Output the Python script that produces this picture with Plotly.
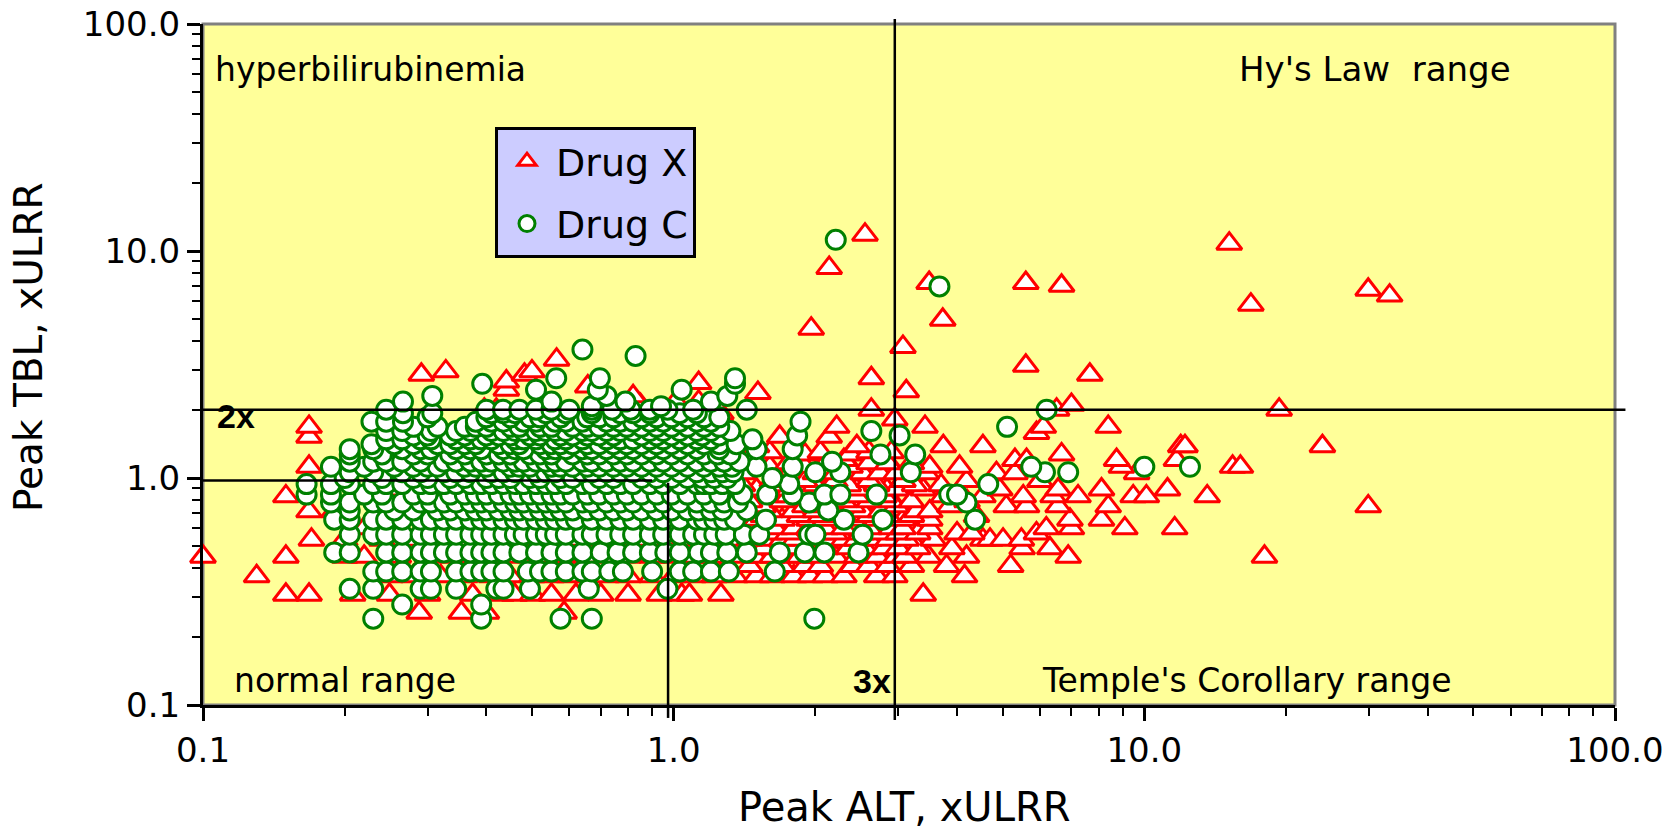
import math
import plotly.graph_objects as go

# ---------------- data (peak values, x upper limit of reference range) ----------------
# Drug X (triangles): each TBL level with the ALT values observed at that level
drug_x_tbl = [0.255, 0.306, 0.369, 0.41, 0.45, 0.49, 0.535, 0.57, 0.60, 0.655, 0.68, 0.713, 0.75,
              0.79, 0.83, 0.89, 0.93, 0.97, 1.05, 1.12, 1.16, 1.2, 1.27, 1.3, 1.38, 1.52, 1.58,
              1.63, 1.68, 1.81, 1.93, 2.0, 2.1, 2.17, 2.29, 2.37, 2.41, 2.45, 2.53, 2.62, 2.66,
              2.75, 2.85, 2.95, 3.12, 3.32, 3.78, 4.55, 4.98, 5.8, 6.36, 6.75, 7.03, 7.23, 8.42,
              10.77, 11.8]
drug_x_alt = [
    [0.288, 0.354, 0.4, 0.585],
    [0.15, 0.168, 0.208, 0.249, 0.3, 0.374, 0.43, 0.459, 0.502, 0.55, 0.62, 0.7, 0.8, 0.932, 1.04, 1.08, 1.26, 3.39],
    [0.13, 0.25, 0.28, 0.32, 0.36, 0.41, 0.45, 0.5, 0.55, 0.6, 0.66, 0.72, 0.8, 0.9, 1.0, 1.1, 1.22, 1.35, 1.5,
     1.62, 1.8, 1.95, 2.1, 2.3, 2.7, 2.95, 4.15],
    [1.3, 1.45, 1.7, 1.9, 2.05, 2.4, 2.6, 2.85, 3.2, 3.8, 5.2],
    [0.1, 0.15, 0.2, 0.22, 0.26, 0.3, 0.34, 0.38, 0.42, 0.47, 0.52, 0.58, 0.65, 0.72, 0.8, 0.9, 1.0, 1.1, 1.2,
     1.27, 1.4, 1.49, 1.62, 1.75, 1.85, 2.0, 2.21, 2.45, 2.71, 2.97, 3.1, 3.48, 4.19, 6.89, 18.0],
    [1.35, 1.55, 1.8, 2.1, 2.35, 2.55, 2.8, 3.0, 3.3, 3.9, 5.5, 6.3],
    [0.17, 0.2, 0.24, 0.28, 0.32, 0.36, 0.4, 0.45, 0.5, 0.55, 0.62, 0.7, 0.78, 0.86, 0.95, 1.05, 1.15, 1.25,
     1.35, 1.45, 1.55, 1.7, 1.81, 2.0, 2.14, 2.3, 2.45, 2.6, 2.86, 3.12, 3.56, 4.54, 4.7, 5.01, 5.48],
    [1.4, 1.6, 1.75, 2.05, 2.2, 2.5, 2.75, 3.0, 3.3, 4.0, 4.3, 5.9],
    [0.22, 0.3, 0.42, 0.6, 0.85, 1.1, 1.3, 1.5, 1.64, 1.8, 1.94, 2.1, 2.3, 2.6, 2.9, 3.07, 3.5, 6.19, 7.0, 9.09, 11.6],
    [0.25, 0.4, 0.7, 1.2, 1.5, 1.7, 1.94, 2.1, 2.4, 2.7, 3.07, 3.5, 6.95, 8.11],
    [1.35, 1.55, 1.85, 2.05, 2.3, 2.6, 2.85, 3.2, 4.4],
    [0.168, 0.19, 0.35, 0.55, 0.9, 1.25, 1.45, 1.6, 1.8, 2.0, 2.2, 2.52, 2.75, 3.28, 3.5],
    [1.3, 1.55, 1.9, 2.15, 2.4, 2.97, 3.86, 5.09, 5.62, 6.56, 8.38, 29.9],
    [1.45, 1.7, 2.05, 2.3, 2.6, 2.9, 3.2, 4.2],
    [0.15, 0.3, 0.6, 1.1, 1.35, 1.62, 1.75, 2.0, 2.26, 2.45, 2.8, 3.74, 4.54, 5.53, 6.4, 7.23, 9.47, 10.1, 13.6],
    [0.25, 0.5, 0.8, 1.2, 1.5, 1.76, 2.1, 2.45, 2.84, 2.97, 3.39, 4.93, 6.56, 8.11, 11.2],
    [1.4, 1.7, 2.0, 2.35, 2.7, 3.25, 3.7],
    [0.2, 0.45, 0.9, 1.3, 1.62, 1.9, 2.2, 2.6, 3.07, 4.19, 6.0],
    [0.3, 0.7, 1.4, 2.0, 2.21, 2.52, 2.74, 2.97, 3.44, 4.85, 5.31, 9.63],
    [0.168, 0.208, 0.4, 1.0, 1.6, 1.9, 2.37, 3.5, 4.05, 8.94, 15.4, 16.0],
    [1.45, 1.75, 2.1, 2.6, 2.85, 3.2],
    [0.231, 0.345, 0.6, 1.1, 2.3, 5.31, 5.62, 8.73, 11.7],
    [0.5, 1.2, 1.9, 2.37, 6.67],
    [1.6, 2.05, 2.6, 2.9],
    [0.249, 0.8, 1.5, 2.45, 3.74, 4.54, 11.95, 12.2, 23.9],
    [0.168, 0.9, 1.68, 2.14],
    [5.9],
    [0.27, 0.6, 1.25],
    [0.168, 2.22, 3.42, 6.1, 8.38],
    [1.27, 2.95],
    [1.26],
    [0.396, 0.42, 2.63, 6.51, 19.34],
    [0.85, 7.0],
    [1.01, 1.13],
    [0.82],
    [1.51],
    [3.12],
    [0.441],
    [0.657],
    [1.13],
    [0.441],
    [2.63],
    [0.291, 0.482, 7.66],
    [0.328, 0.50],
    [5.6],
    [0.564],
    [3.07],
    [1.96],
    [3.73],
    [16.84],
    [33.2],
    [29.9],
    [6.67],
    [3.49, 5.6],
    [2.14],
    [15.15],
    [2.55],
]

# Drug C (circles): each TBL level with the ALT values observed at that level
drug_c_tbl = [0.24, 0.277, 0.325, 0.387, 0.47, 0.563, 0.655, 0.72, 0.78, 0.845, 0.94, 1.0, 1.06, 1.12,
              1.18, 1.27, 1.34, 1.41, 1.48, 1.54, 1.61, 1.68, 1.77, 1.85, 1.93, 2.0, 2.07, 2.17, 2.3,
              2.45, 2.6, 2.75, 3.45, 3.68, 6.98, 11.2]
drug_c_alt = [
    [0.23, 0.39, 0.575, 0.67, 1.99],
    [0.265, 0.39],
    [0.205, 0.23, 0.29, 0.305, 0.345, 0.42, 0.435, 0.495, 0.66, 0.97],
    [0.23, 0.245, 0.265, 0.29, 0.305, 0.345, 0.37, 0.39, 0.41, 0.435, 0.49, 0.52, 0.55, 0.59, 0.64, 0.67,
     0.73, 0.78, 0.9, 1.03, 1.1, 1.2, 1.31, 1.64],
    [0.19, 0.205, 0.245, 0.265, 0.29, 0.305, 0.325, 0.345, 0.37, 0.39, 0.41, 0.435, 0.47, 0.51, 0.55, 0.59,
     0.64, 0.7, 0.76, 0.82, 0.89, 0.96, 1.03, 1.13, 1.2, 1.3, 1.43, 1.68, 1.9, 2.09, 2.47],
    [0.205, 0.23, 0.245, 0.265, 0.29, 0.305, 0.325, 0.345, 0.37, 0.39, 0.41, 0.435, 0.46, 0.48, 0.51, 0.535,
     0.56, 0.59, 0.64, 0.67, 0.72, 0.77, 0.82, 0.89, 0.95, 1.03, 1.1, 1.16, 1.22, 1.29, 1.41,
     1.52, 1.94, 2.0, 2.52],
    [0.19, 0.205, 0.23, 0.245, 0.265, 0.29, 0.305, 0.325, 0.345, 0.37, 0.39, 0.41, 0.435, 0.46, 0.48, 0.51,
     0.535, 0.56, 0.59, 0.62, 0.67, 0.72, 0.77, 0.82, 0.89, 0.95, 1.03, 1.12, 1.16, 1.22, 1.28, 1.35,
     1.57, 2.3, 2.78, 4.37],
    [0.205, 0.255, 0.28, 0.315, 0.335, 0.36, 0.38, 0.4, 0.425, 0.45, 0.47, 0.495, 0.52, 0.55, 0.575, 0.61,
     0.655, 0.695, 0.745, 0.795, 0.855, 0.92, 0.99, 1.07, 1.13, 1.2, 1.27, 1.43, 2.13],
    [0.187, 0.205, 0.23, 0.245, 0.265, 0.29, 0.305, 0.325, 0.345, 0.37, 0.39, 0.41, 0.435, 0.46, 0.48, 0.51,
     0.535, 0.56, 0.59, 0.64, 0.67, 0.72, 0.77, 0.82, 0.89, 0.95, 1.03, 1.12, 1.2, 1.28, 1.37, 1.94, 4.19],
    [0.166, 0.187, 0.22, 0.24, 0.28, 0.3, 0.335, 0.36, 0.38, 0.4, 0.425, 0.45, 0.47, 0.495, 0.52, 0.55, 0.575,
     0.61, 0.655, 0.695, 0.745, 0.795, 0.855, 0.92, 0.99, 1.07, 1.16, 1.25, 1.4, 1.58, 1.79, 2.09,
     2.26, 2.7, 3.85, 4.0],
    [0.166, 0.187, 0.205, 0.23, 0.245, 0.265, 0.29, 0.305, 0.325, 0.345, 0.37, 0.39, 0.41, 0.435, 0.46, 0.48,
     0.51, 0.535, 0.56, 0.59, 0.64, 0.67, 0.72, 0.77, 0.82, 0.89, 0.95, 1.03, 1.12, 1.16, 1.2, 1.27, 1.35,
     1.76, 4.66],
    [0.2, 0.24, 0.28, 0.3, 0.335, 0.36, 0.4, 0.425, 0.45, 0.495, 0.52, 0.575, 0.61, 0.695, 0.745, 0.855, 0.92,
     0.99, 1.07, 1.15, 1.22, 1.3, 1.62],
    [0.205, 0.23, 0.265, 0.29, 0.325, 0.345, 0.37, 0.41, 0.435, 0.46, 0.51, 0.535, 0.56, 0.64, 0.67, 0.72,
     0.77, 0.82, 0.89, 0.95, 1.03, 1.12, 1.2, 1.27, 1.34, 2.0, 2.26, 3.19, 6.15, 6.89],
    [0.187, 0.22, 0.255, 0.28, 0.3, 0.315, 0.36, 0.38, 0.4, 0.45, 0.47, 0.495, 0.55, 0.575, 0.61, 0.655, 0.695,
     0.745, 0.795, 0.855, 0.92, 0.99, 1.07, 1.16, 1.25, 1.33, 1.5, 1.79, 5.75, 10.0, 12.5],
    [0.205, 0.23, 0.245, 0.265, 0.29, 0.325, 0.345, 0.37, 0.39, 0.41, 0.435, 0.46, 0.48, 0.51, 0.535, 0.56,
     0.59, 0.64, 0.67, 0.72, 0.77, 0.82, 0.89, 0.95, 1.03, 1.12, 1.2, 1.28, 1.38, 2.17],
    [0.205, 0.24, 0.28, 0.3, 0.335, 0.36, 0.4, 0.425, 0.45, 0.495, 0.52, 0.55, 0.61, 0.655, 0.695, 0.745,
     0.795, 0.855, 0.92, 0.99, 1.07, 1.16, 1.24, 1.32, 2.75, 3.26],
    [0.205, 0.23, 0.265, 0.29, 0.305, 0.345, 0.37, 0.39, 0.435, 0.46, 0.48, 0.535, 0.56, 0.59, 0.64, 0.67,
     0.72, 0.77, 0.82, 0.89, 0.95, 1.03, 1.12, 1.25, 1.5, 1.79],
    [0.228, 0.255, 0.28, 0.315, 0.335, 0.36, 0.38, 0.425, 0.45, 0.47, 0.52, 0.55, 0.575, 0.61, 0.655, 0.695,
     0.745, 0.795, 0.855, 0.92, 0.99, 1.07, 1.16, 1.25, 1.36],
    [0.245, 0.265, 0.29, 0.305, 0.345, 0.37, 0.39, 0.41, 0.46, 0.48, 0.51, 0.56, 0.59, 0.64, 0.72, 0.77, 0.82,
     0.89, 0.95, 1.03, 1.12, 1.2, 1.47],
    [0.28, 0.3, 0.335, 0.36, 0.4, 0.425, 0.45, 0.495, 0.52, 0.575, 0.61, 0.655, 0.695, 0.745, 0.855, 0.92,
     0.99, 1.07, 1.15, 1.25, 1.83, 3.02],
    [0.245, 0.265, 0.305, 0.345, 0.37, 0.41, 0.435, 0.46, 0.48, 0.51, 0.535, 0.56, 0.59, 0.64, 0.67, 0.72,
     0.77, 0.82, 0.89, 0.95, 1.03, 1.12, 1.2, 1.32, 2.63],
    [0.28, 0.315, 0.36, 0.38, 0.4, 0.45, 0.47, 0.52, 0.55, 0.61, 0.655, 0.695, 0.745, 0.795, 0.855, 0.92,
     0.99, 1.07, 1.16, 1.25, 5.11],
    [0.228, 0.245, 0.266, 0.38, 0.41, 0.435, 0.48, 0.51, 0.56, 0.59, 0.64, 0.72, 0.77, 0.82, 0.89, 0.95,
     1.03, 1.12, 1.2, 1.86],
    [0.3, 0.4, 0.45, 0.495, 0.52, 0.575, 0.655, 0.695, 0.745, 0.855, 0.92, 0.99, 1.07, 1.16, 1.25],
    [0.266, 0.307, 0.41, 0.435, 0.46, 0.535, 0.59, 0.67, 0.77, 0.82, 0.89, 1.03, 1.12],
    [0.245, 0.4, 0.434, 0.47, 0.51, 0.55, 0.6, 0.67, 0.74, 0.81, 0.89, 0.97, 1.1, 1.43, 6.2],
    [0.67, 0.94],
    [0.266, 0.55, 0.79, 1.2],
    [0.307, 0.72, 1.3],
    [0.51, 0.69, 1.04],
    [0.392, 1.35],
    [0.563, 0.697, 1.35],
    [0.83],
    [0.64],
    [3.67],
    [2.21],
]

tick_vals = [0.1, 1, 10, 100]
tick_text = ["0.1", "1.0", "10.0", "100.0"]

# ---------------- helpers ----------------
def expand(levels, rows):
    xs, ys = [], []
    for tbl, alts in zip(levels, rows):
        for alt in alts:
            xs.append(alt)
            ys.append(tbl)
    return xs, ys


def frac(v, lo=-1.0, hi=2.0):
    """position of value v along a log axis spanning 10**lo .. 10**hi (paper fraction)"""
    return (math.log10(v) - lo) / (hi - lo)


FONT = "DejaVu Sans"
ARIAL = "Liberation Sans, Arial, sans-serif"

xx, xy = expand(drug_x_tbl, drug_x_alt)
cx, cy = expand(drug_c_tbl, drug_c_alt)

fig = go.Figure()
fig.add_trace(go.Scatter(
    x=xx, y=xy, mode="markers", name="Drug X", legendgroup="x",
    cliponaxis=False, hoverinfo="skip",
    marker=dict(symbol="triangle-up", size=22, color="white",
                line=dict(color="#FF0000", width=3)),
))
fig.add_trace(go.Scatter(
    x=cx, y=cy, mode="markers", name="Drug C", legendgroup="c",
    cliponaxis=False, hoverinfo="skip",
    marker=dict(symbol="circle", size=19, color="white",
                line=dict(color="#008000", width=3)),
))

minor_vals = [d * m for m in (0.1, 1, 10) for d in range(2, 10)]

axis_common = dict(
    type="log", range=[-1, 2],
    tickmode="array", tickvals=tick_vals, ticktext=tick_text,
    ticks="outside", ticklen=13, tickwidth=2.5, tickcolor="black",
    showline=True, linecolor="black", linewidth=3, mirror=False,
    showgrid=False, zeroline=False, automargin=False, fixedrange=True,
    tickfont=dict(family=FONT, size=34, color="black"),
    minor=dict(tickmode="array", tickvals=minor_vals, ticks="outside",
               ticklen=8, tickwidth=2, tickcolor="black", showgrid=False),
)

fig.update_layout(
    width=1675, height=834,
    margin=dict(l=203, r=60, t=24, b=129, pad=0),
    paper_bgcolor="white", plot_bgcolor="#FFFF99",
    hovermode=False,
    xaxis=axis_common,
    yaxis=axis_common,
    showlegend=True,
    legend=dict(
        x=0.2068, y=0.8488, xanchor="left", yanchor="top",
        bgcolor="#CCCCFF", bordercolor="black", borderwidth=3,
        font=dict(family=FONT, size=38, color="black"),
        itemwidth=48, traceorder="grouped", tracegroupgap=10,
        itemclick=False, itemdoubleclick=False,
    ),
)

line_style = dict(color="black", width=2.5)
shapes = [
    # grey frame (top / right)
    dict(type="rect", xref="paper", yref="paper", x0=0, x1=1, y0=0, y1=1,
         line=dict(color="#808080", width=3), fillcolor="rgba(0,0,0,0)", layer="below"),
    # 2x ULRR bilirubin line
    dict(type="line", xref="paper", yref="paper", x0=0, x1=1.0074,
         y0=frac(2.0), y1=frac(2.0), line=line_style),
    # normal range box (1x ULRR)
    dict(type="line", xref="paper", yref="paper", x0=0, x1=frac(0.9),
         y0=frac(0.976), y1=frac(0.976), line=line_style),
    dict(type="line", xref="paper", yref="paper", x0=frac(0.973), x1=frac(0.973),
         y0=-0.019, y1=frac(0.953), line=line_style),
    # 3x ULRR ALT line
    dict(type="line", xref="paper", yref="paper", x0=frac(2.95), x1=frac(2.95),
         y0=-0.022, y1=1.0073, line=line_style),
]
fig.update_layout(shapes=shapes)

def label(text, x, y, xanchor="left", yanchor="middle", size=33, family=FONT, angle=0):
    return dict(text=text, x=x, y=y, xref="paper", yref="paper",
                xanchor=xanchor, yanchor=yanchor, showarrow=False,
                textangle=angle, font=dict(family=family, size=size, color="black"))

fig.update_layout(annotations=[
    label("hyperbilirubinemia", 0.0074, 0.9332),
    label("Hy's Law\u00a0 range", 0.830, 0.9332, xanchor="center", size=34),
    label("normal range", 0.1008, 0.036, xanchor="center"),
    label("Temple's Corollary range", 0.7393, 0.036, xanchor="center"),
    label("<b>3x</b>", 0.4887, 0.035, xanchor="right", size=34, family=ARIAL),
    label("<b>2x</b>", 0.0082, 0.4241, xanchor="left", size=34, family=ARIAL),
    label("Peak ALT, xULRR", 0.497, -0.187, xanchor="center", yanchor="bottom", size=40),
    label("Peak TBL, xULRR", -0.1232, 0.5257, xanchor="center", size=39, angle=-90),
])

fig.write_html("out.html", config={"displayModeBar": False})
